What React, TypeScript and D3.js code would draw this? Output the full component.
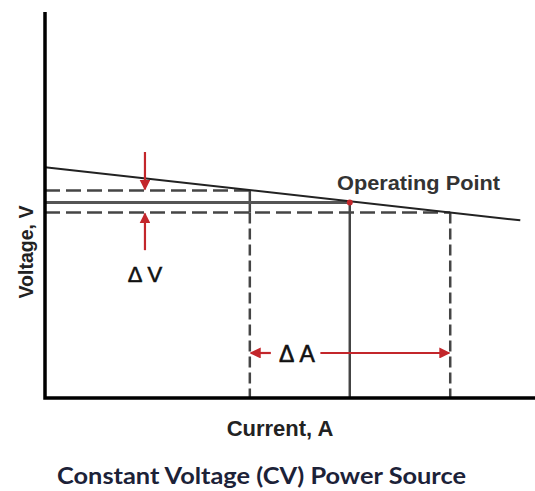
import * as React from 'react';
import * as d3 from 'd3';

// load line of the CV source (current in %, voltage in %)
const lineCurrent = [0, 97];
const lineVoltage = [59.5, 45.8];

// operating point
const opCurrent = 62.2;
const opVoltage = 50.4;

// limits of the voltage band and the current swing it causes
const bandCurrent = [41.8, 82.7];
const bandVoltage = [53.5, 47.8];

// where the annotations sit (data units)
const dvArrowCurrent = 20.4;
const dvArrowFrom = [63.4, 38.1];
const daArrowVoltage = 11.6;
const daGap = [46.5, 56.2];

const W = 535;
const H = 491;
const RED = '#c3262b';
const SANS = 'Arial, "Liberation Sans", sans-serif';

const App: React.FC = () => {
  const x = d3.scaleLinear().domain([0, 100]).range([45, 535]);
  const y = d3.scaleLinear().domain([0, 100]).range([398, 10]);

  const line = d3.line<[number, number]>().x(d => x(d[0])).y(d => y(d[1]));
  const loadLine = lineCurrent.map((c, i) => [c, lineVoltage[i]] as [number, number]);

  const dash = { stroke: '#454545', strokeWidth: 2.5, fill: 'none' };

  return (
    <svg
      width={W}
      height={H}
      viewBox={`0 0 ${W} ${H}`}
      style={{ position: 'absolute', left: 0, top: 0, background: '#fff' }}
    >
      <defs>
        <marker id="head" viewBox="0 0 10 10" refX="9" refY="5" markerWidth="11" markerHeight="11"
          markerUnits="userSpaceOnUse" orient="auto">
          <path d="M0,0 L10,5 L0,10 z" fill={RED} />
        </marker>
      </defs>

      {/* band lines */}
      <path d={line([[0, bandVoltage[0]], [bandCurrent[0], bandVoltage[0]]])!} {...dash} strokeDasharray="15 6" />
      <path d={line([[0, bandVoltage[1]], [bandCurrent[1], bandVoltage[1]]])!} {...dash} strokeDasharray="15 6" />
      <path d={line([[bandCurrent[0], bandVoltage[0]], [bandCurrent[0], bandVoltage[1]]])!} stroke="#454545" strokeWidth={2.5} />
      <path d={line([[bandCurrent[0], bandVoltage[1]], [bandCurrent[0], 0]])!} {...dash} strokeDasharray="11 5" />
      <path d={line([[bandCurrent[1], bandVoltage[1]], [bandCurrent[1], 0]])!} {...dash} strokeDasharray="11 5" />

      {/* operating point guides */}
      <path d={line([[0, opVoltage], [opCurrent, opVoltage]])!} stroke="#555" strokeWidth={3} fill="none" />
      <path d={line([[opCurrent, opVoltage], [opCurrent, 0]])!} stroke="#444" strokeWidth={2.5} fill="none" />

      {/* load line */}
      <path d={line(loadLine)!} stroke="#222" strokeWidth={2} fill="none" />
      <circle cx={x(opCurrent)} cy={y(opVoltage)} r={3} fill={RED} />

      {/* axes */}
      <path d={`M${x(0)},${y(99.5)}V${y(0)}H${x(100)}`} stroke="#000" strokeWidth={3.5} fill="none" />

      {/* delta V arrows */}
      <line x1={x(dvArrowCurrent)} x2={x(dvArrowCurrent)} y1={y(dvArrowFrom[0])} y2={y(bandVoltage[0]) - 1}
        stroke={RED} strokeWidth={2.2} markerEnd="url(#head)" />
      <line x1={x(dvArrowCurrent)} x2={x(dvArrowCurrent)} y1={y(dvArrowFrom[1])} y2={y(bandVoltage[1]) + 1}
        stroke={RED} strokeWidth={2.2} markerEnd="url(#head)" />
      <text x={x(dvArrowCurrent)} y={282} textAnchor="middle" fontFamily={SANS} fontSize={22} fill="#111"
        stroke="#111" strokeWidth={0.6}>Δ V</text>

      {/* delta A arrow */}
      <line x1={x(daGap[0]) - 2} x2={x(bandCurrent[0]) + 1} y1={y(daArrowVoltage)} y2={y(daArrowVoltage)}
        stroke={RED} strokeWidth={2.2} markerEnd="url(#head)" />
      <line x1={x(daGap[1])} x2={x(bandCurrent[1]) - 1} y1={y(daArrowVoltage)} y2={y(daArrowVoltage)}
        stroke={RED} strokeWidth={2.2} markerEnd="url(#head)" />
      <text x={297} y={362} textAnchor="middle" fontFamily={SANS} fontSize={23} fill="#111"
        stroke="#111" strokeWidth={0.6}>Δ A</text>

      {/* labels */}
      <text x={337} y={190} fontFamily={SANS} fontSize={20} fontWeight="bold" fill="#333"
        textLength={163} lengthAdjust="spacingAndGlyphs">Operating Point</text>
      <text x={280} y={436} textAnchor="middle" fontFamily={SANS} fontSize={22} fontWeight="bold" fill="#222">Current, A</text>
      <text transform="translate(33,252) rotate(-90)" textAnchor="middle" fontFamily={SANS} fontSize={20}
        fontWeight="bold" fill="#222" textLength={93} lengthAdjust="spacingAndGlyphs">Voltage, V</text>
      <text x={57} y={484} fontFamily="Lato, sans-serif" fontSize={23} fontWeight="bold" fill="#1c2238"
        textLength={409} lengthAdjust="spacingAndGlyphs">Constant Voltage (CV) Power Source</text>
    </svg>
  );
};

export default App;
